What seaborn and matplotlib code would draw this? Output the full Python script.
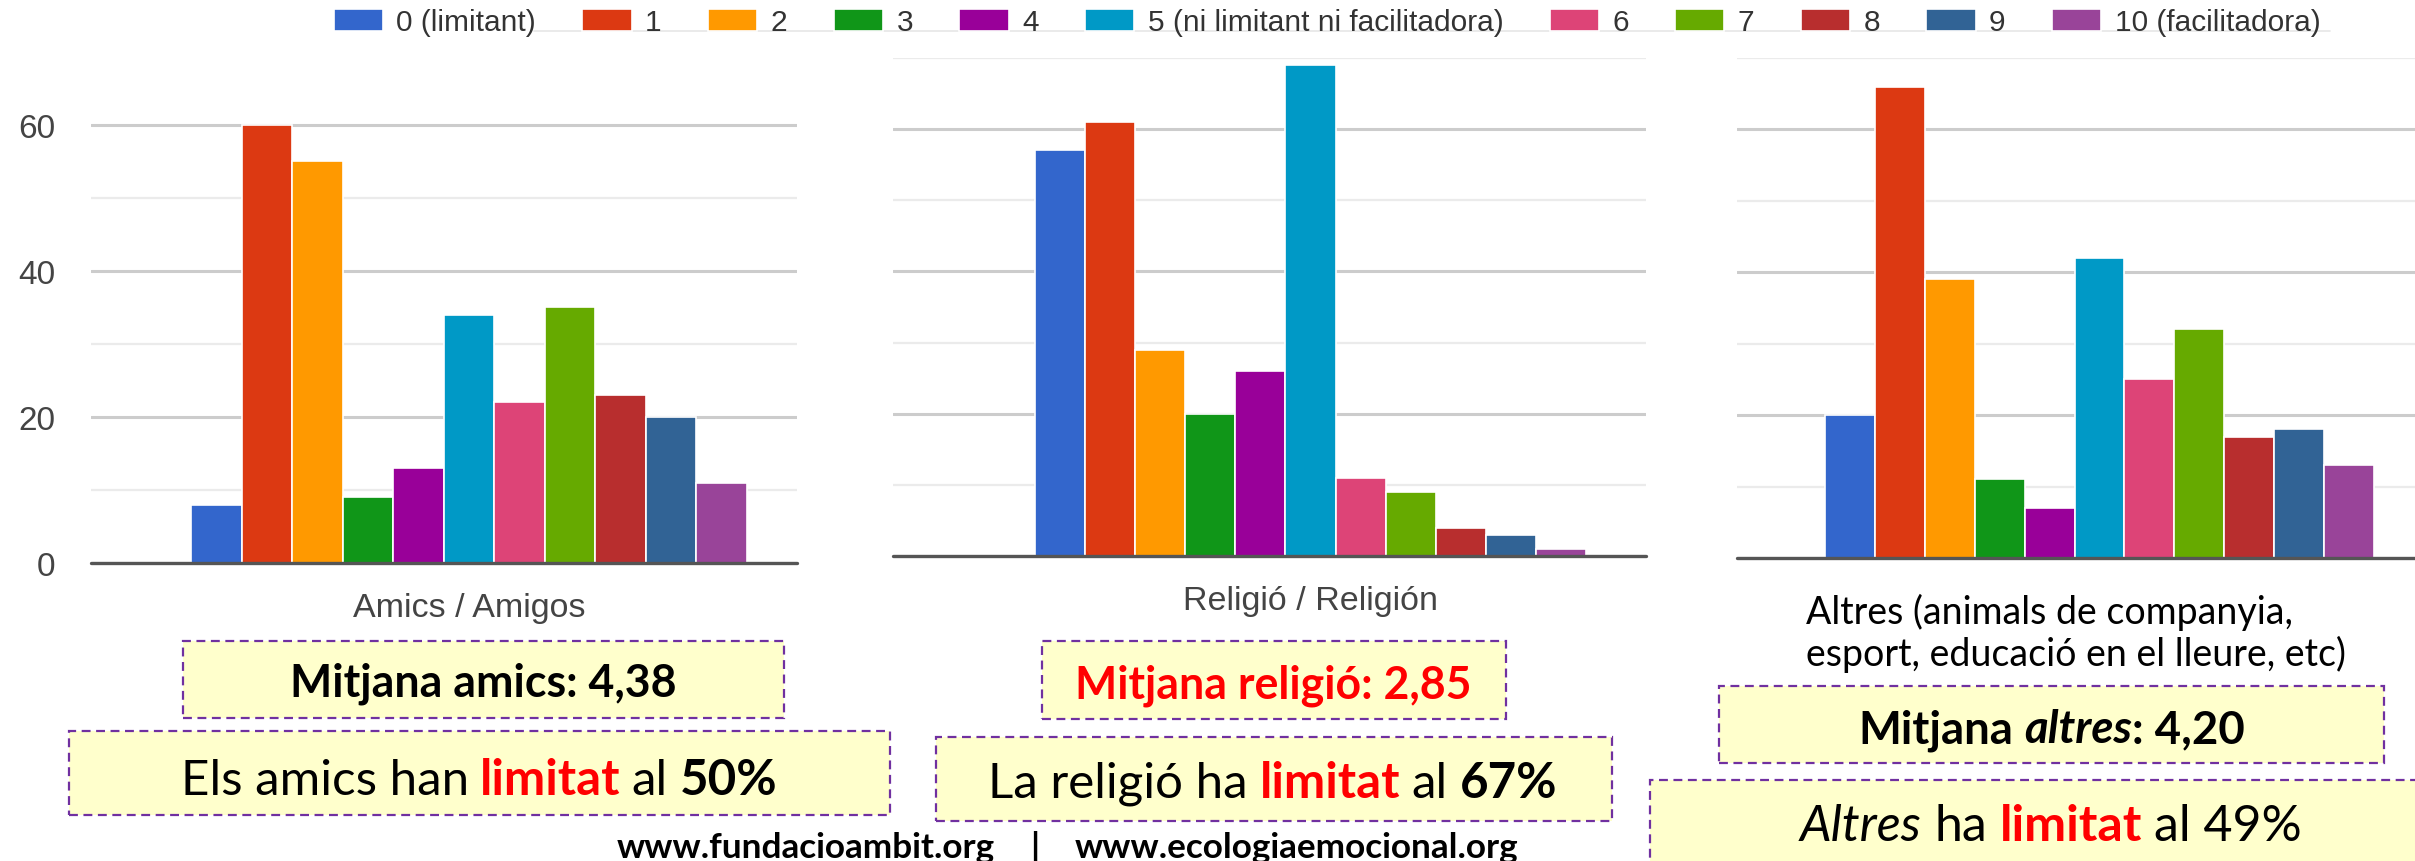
import matplotlib
matplotlib.use("Agg")
import matplotlib.pyplot as plt
from matplotlib.patches import Rectangle
from matplotlib.lines import Line2D
from matplotlib.ticker import MultipleLocator
from matplotlib import transforms
import seaborn as sns
import pandas as pd

# ---- data ----
scores = ["0 (limitant)", "1", "2", "3", "4", "5 (ni limitant ni facilitadora)",
          "6", "7", "8", "9", "10 (facilitadora)"]
colors = ["#3366cc", "#dc3912", "#ff9900", "#109618", "#990099", "#0099c6",
          "#dd4477", "#66aa00", "#b82e2e", "#316395", "#994499"]

amics = [8, 60, 55, 9, 13, 34, 22, 35, 23, 20, 11]
religio = [57, 61, 29, 20, 26, 69, 11, 9, 4, 3, 1]
altres = [20, 66, 39, 11, 7, 42, 25, 32, 17, 18, 13]

cat_amics = "Amics / Amigos"
cat_religio = "Religió / Religión"
cat_altres = "Altres (animals de companyia,\nesport, educació en el lleure, etc)"

# text in the boxes: (text, colour, weight, style)
txt_mean_amics = [("Mitjana amics: 4,38", "black", "bold", "normal")]
txt_lim_amics = [("Els amics han", "black", "normal", "normal"), (" limitat", "red", "bold", "normal"),
                 (" al", "black", "normal", "normal"), (" 50%", "black", "bold", "normal")]
txt_mean_religio = [("Mitjana religió: 2,85", "red", "bold", "normal")]
txt_lim_religio = [("La religió ha", "black", "normal", "normal"), (" limitat", "red", "bold", "normal"),
                   (" al", "black", "normal", "normal"), (" 67%", "black", "bold", "normal")]
txt_mean_altres = [("Mitjana", "black", "bold", "normal"), (" altres", "black", "bold", "italic"),
                   (": 4,20", "black", "bold", "normal")]
txt_lim_altres = [("Altres", "black", "normal", "italic"), (" ha", "black", "normal", "normal"),
                  (" limitat", "red", "bold", "normal"), (" al 49%", "black", "normal", "normal")]
txt_footer = [("www.fundacioambit.org", "black", "bold", "normal"), ("    |", "black", "bold", "normal"),
              ("    www.ecologiaemocional.org", "black", "bold", "normal")]

W, H = 2415, 862
sns.set_theme(style="white")
plt.rcParams["font.family"] = ["Liberation Sans", "DejaVu Sans"]
box_font = "Lato"

fig = plt.figure(figsize=(W / 100, H / 100), dpi=100)


def px_axes(left, right, top, bottom):
    return fig.add_axes([left / W, 1 - bottom / H, (right - left) / W, (bottom - top) / H])


# (category, values, axes box px, bar group px, ylim top)
panels = [
    (cat_amics, amics, (91, 797, 111, 564), (191, 747), 62),
    (cat_religio, religio, (893, 1646, 59, 557), (1035, 1586), 70),
    (cat_altres, altres, (1737, 2415, 59, 559), (1825, 2374), 70),
]

handles = labels = None
axes = []
for i, (cat, vals, box, grp, ytop) in enumerate(panels):
    ax = px_axes(*box)
    df = pd.DataFrame({"cat": cat, "score": scores, "n": vals})
    sns.barplot(data=df, x="cat", y="n", hue="score", hue_order=scores, palette=colors,
                saturation=1, width=0.8, edgecolor="white", linewidth=1.2, ax=ax, zorder=2)
    if handles is None:
        handles, labels = ax.get_legend_handles_labels()
    ax.get_legend().remove()
    ax.set_xlabel("")
    ax.set_ylabel("")
    for s in ax.spines.values():
        s.set_visible(False)
    # x range so the bar group sits where it does in the picture
    L, R = box[0], box[1]
    k = (grp[1] - grp[0]) / 0.8
    ax.set_xlim(-0.4 - (grp[0] - L) / k, 0.4 + (R - grp[1]) / k)
    ax.set_ylim(0, ytop)
    ax.yaxis.set_major_locator(MultipleLocator(20))
    ax.yaxis.set_minor_locator(MultipleLocator(10))
    ax.grid(axis="y", which="major", color="#cccccc", lw=2.2, zorder=0)
    ax.grid(axis="y", which="minor", color="#ebebeb", lw=1.6, zorder=0)
    ax.set_axisbelow(True)
    ax.axhline(0, color="#555555", lw=2.4, zorder=3, clip_on=False)
    ax.tick_params(axis="y", which="both", length=0, labelsize=24, labelcolor="#444444", pad=26)
    if i > 0:
        ax.tick_params(axis="y", which="both", labelleft=False)
    ax.tick_params(axis="x", length=0, labelsize=24.5, labelcolor="#444444", pad=21)
    axes.append(ax)

# third panel category label is black, Calibri-like, two lines
ax3 = axes[2]
ax3.tick_params(axis="x", pad=25, labelcolor="black")
for lab in ax3.get_xticklabels():
    lab.set_family(box_font)
    lab.set_fontsize(27)
    lab.set_multialignment("left")
    lab.set_linespacing(1.15)
    lab.set_transform(lab.get_transform() + transforms.ScaledTranslation(-0.23, 0, fig.dpi_scale_trans))

# legend across the top
fig.add_artist(Line2D([534 / W, 2330 / W], [1 - 32 / H, 1 - 32 / H], color="#e6e6e6", lw=1.2, zorder=0))
fig.legend(handles, labels, loc="center", bbox_to_anchor=(1327 / W, 1 - 23 / H), ncol=11,
           frameon=False, fontsize=21.5, handlelength=1.65, handleheight=0.75,
           handletextpad=0.45, columnspacing=1.55, labelcolor="#333333")


def box(x0, x1, y0, y1):
    fig.add_artist(Rectangle((x0 / W, 1 - y1 / H), (x1 - x0) / W, (y1 - y0) / H,
                             transform=fig.transFigure, facecolor="#ffffcc", edgecolor="#7030a0",
                             lw=1.6, linestyle=(0, (4, 2.5)), clip_on=False, zorder=1))


renderer = fig.canvas.get_renderer()


def rich(xc, yc, parts, width, family=box_font):
    def w(s, **kw):
        t = fig.text(0, 0, s, fontsize=10, family=family, **kw)
        e = t.get_window_extent(renderer).width
        t.remove()
        return e
    space = w("n n") - w("nn")
    ws = [w(s.strip(), weight=wt, style=st) for s, c, wt, st in parts]
    gaps = [space * (len(s) - len(s.lstrip(" "))) for s, *_ in parts]
    k = width / (sum(ws) + sum(gaps))
    size = 10 * k
    base = yc + 0.36 * size * 100 / 72
    x = xc - width / 2
    for (s, c, wt, st), wi, g in zip(parts, ws, gaps):
        x += g * k
        fig.text(x / W, 1 - base / H, s.strip(), fontsize=size, family=family, color=c,
                 weight=wt, style=st, va="baseline", ha="left", zorder=2)
        x += wi * k


box(183, 784, 642, 719)
rich(483, 680, txt_mean_amics, 386)
box(69, 890, 732, 816)
rich(479, 777, txt_lim_amics, 597)

box(1042, 1506, 642, 720)
rich(1273, 682, txt_mean_religio, 396)
box(936, 1612, 738, 822)
rich(1273, 780, txt_lim_religio, 569)

box(1719, 2384, 687, 764)
rich(2052, 727, txt_mean_altres, 387)
box(1650, 2440, 781, 880)
rich(2051, 823, txt_lim_altres, 502)

rich(1068, 845, txt_footer, 903)

fig.savefig("out.png", dpi=100)
